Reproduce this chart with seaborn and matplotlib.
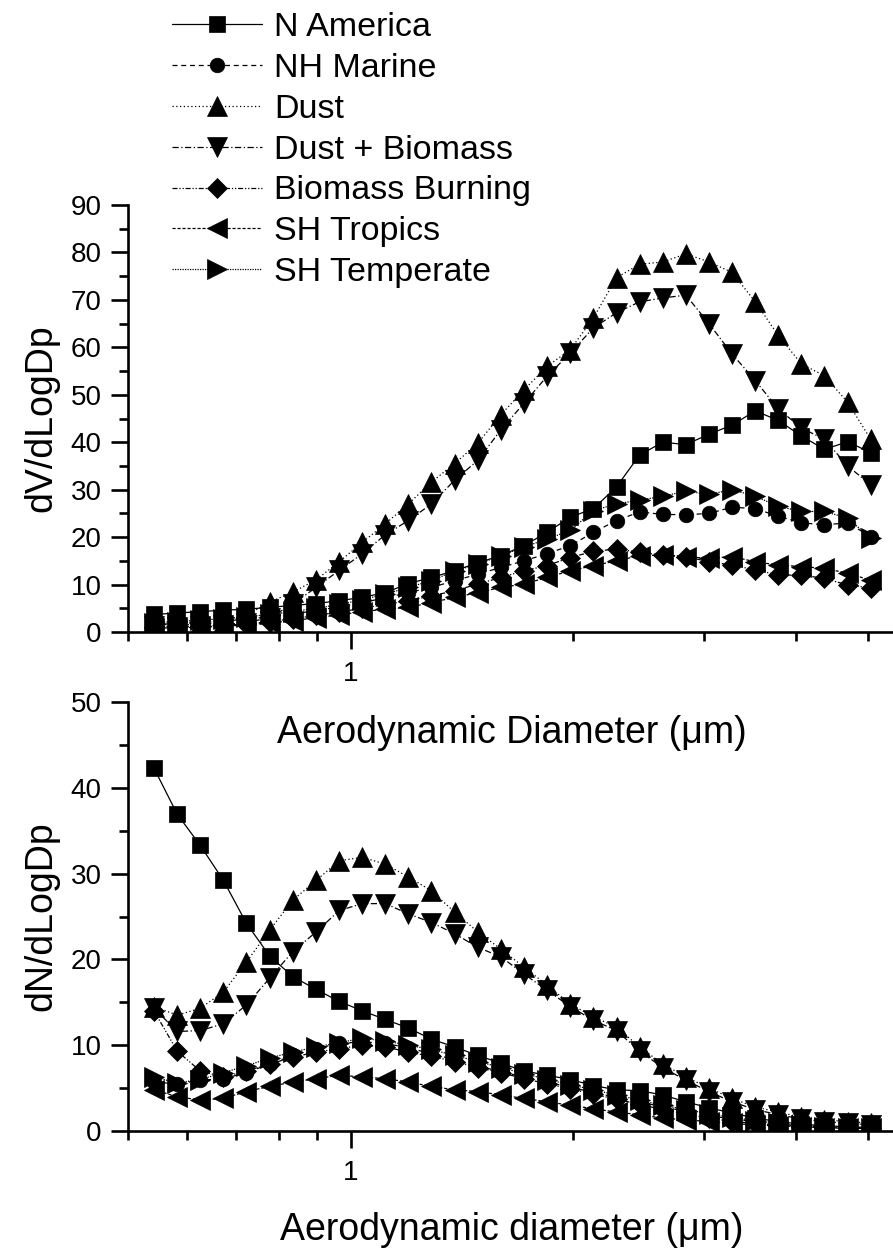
import pandas as pd
import matplotlib
matplotlib.use('Agg')
import matplotlib.pyplot as plt
from matplotlib.ticker import FixedLocator, FixedFormatter, NullFormatter, MultipleLocator
import seaborn as sns

# aerodynamic diameter channels (um)
diam = [0.542, 0.583, 0.626, 0.673, 0.723, 0.777, 0.835, 0.898, 0.965, 1.037,
        1.114, 1.197, 1.286, 1.382, 1.486, 1.596, 1.715, 1.843, 1.981, 2.129,
        2.288, 2.458, 2.642, 2.839, 3.051, 3.278, 3.523, 3.786, 4.068, 4.371,
        4.698, 5.048]

names = ['N America', 'NH Marine', 'Dust', 'Dust + Biomass',
         'Biomass Burning', 'SH Tropics', 'SH Temperate']

# volume distributions dV/dLogDp
dv_n_america = [3.7, 4.0, 4.3, 4.6, 4.8, 5.2, 5.6, 6.0, 6.6, 7.3, 8.3, 10.2, 11.5, 12.9, 14.6, 16.1,
                18.2, 21.0, 24.2, 26.0, 30.6, 37.3, 40.0, 39.5, 41.7, 43.6, 46.6, 44.6, 41.3, 38.5, 40.1, 37.8]
dv_nh_marine = [1.6, 1.8, 2.0, 2.3, 2.7, 3.2, 3.8, 4.5, 5.3, 6.2, 7.2, 8.3, 9.4, 10.8, 12.2, 13.6,
                15.0, 16.5, 18.2, 21.0, 23.5, 25.3, 24.8, 24.7, 25.0, 26.3, 26.0, 24.4, 23.0, 22.6, 23.0, 20.1]
dv_dust = [1.6, 1.5, 1.6, 2.0, 3.5, 6.3, 8.4, 11.0, 14.8, 18.9, 22.8, 27.0, 31.6, 35.5, 39.8, 45.8,
           51.0, 56.0, 59.5, 66.2, 74.7, 77.5, 78.0, 79.7, 78.0, 75.8, 69.6, 62.5, 56.5, 54.0, 48.4, 40.6]
dv_dust_biomass = [1.2, 1.1, 1.2, 1.5, 2.0, 3.0, 5.9, 9.4, 13.0, 16.5, 20.5, 23.5, 27.0, 32.0, 36.2, 42.6,
                   48.2, 53.9, 58.8, 64.1, 67.3, 69.6, 70.4, 71.0, 65.0, 58.6, 53.0, 47.0, 43.0, 40.6, 35.0, 31.0]
dv_biomass = [1.0, 1.1, 1.2, 1.4, 1.7, 2.2, 2.8, 3.5, 4.2, 5.0, 5.8, 6.6, 7.6, 8.7, 10.1, 11.5,
              12.9, 14.0, 15.7, 17.0, 17.5, 16.8, 16.2, 15.9, 14.8, 14.1, 13.1, 12.0, 12.0, 11.3, 9.9, 9.3]
dv_sh_tropics = [0.8, 0.9, 1.0, 1.2, 1.5, 1.9, 2.4, 3.0, 3.6, 4.3, 4.8, 5.2, 6.2, 7.3, 8.3, 9.4,
                 10.1, 11.5, 12.9, 14.0, 15.0, 16.1, 16.2, 15.9, 15.5, 15.9, 14.8, 14.1, 13.8, 13.4, 12.4, 10.9]
dv_sh_temperate = [2.0, 2.2, 2.5, 2.8, 3.2, 3.7, 4.3, 5.0, 5.8, 6.8, 8.0, 9.4, 10.8, 12.9, 14.3, 16.1,
                   17.9, 19.6, 21.4, 25.6, 27.0, 27.8, 28.6, 29.7, 29.0, 30.0, 28.6, 26.5, 25.4, 25.4, 24.0, 19.8]

# number distributions dN/dLogDp
dn_n_america = [42.3, 36.9, 33.3, 29.2, 24.2, 20.4, 18.0, 16.5, 15.1, 14.0, 13.0, 12.0, 10.7, 9.8, 8.8, 7.9,
                7.0, 6.5, 6.0, 5.3, 4.8, 4.7, 4.2, 3.4, 2.7, 2.1, 1.5, 1.1, 0.8, 0.6, 0.5, 0.4]
dn_nh_marine = [5.7, 5.5, 5.9, 6.1, 6.8, 7.8, 8.8, 9.6, 10.2, 10.4, 10.2, 9.7, 9.0, 8.3, 7.6, 6.9,
                6.3, 5.7, 5.1, 4.5, 3.9, 3.4, 2.8, 2.3, 1.8, 1.4, 1.1, 0.8, 0.6, 0.5, 0.4, 0.3]
dn_dust = [14.5, 13.5, 14.3, 16.2, 19.7, 23.4, 26.9, 29.2, 31.5, 31.9, 31.1, 29.6, 28.0, 25.5, 23.2, 21.2,
           19.1, 17.0, 14.8, 13.3, 12.1, 9.8, 7.8, 6.3, 5.0, 3.8, 2.8, 2.2, 1.6, 1.3, 1.1, 0.9]
dn_dust_biomass = [14.3, 11.6, 11.7, 12.5, 14.7, 17.8, 20.9, 23.2, 25.7, 26.5, 26.5, 25.3, 24.3, 23.0, 21.4, 20.3,
                   18.3, 16.4, 14.5, 12.9, 11.7, 9.3, 7.4, 5.9, 4.6, 3.4, 2.5, 1.9, 1.4, 1.1, 0.9, 0.7]
dn_biomass = [14.0, 9.3, 7.0, 6.3, 7.0, 7.8, 8.6, 9.2, 9.6, 10.0, 9.8, 9.2, 8.7, 8.1, 7.4, 6.8,
              6.1, 5.5, 4.9, 4.3, 3.7, 3.1, 2.5, 2.0, 1.5, 1.1, 0.9, 0.7, 0.5, 0.4, 0.3, 0.3]
dn_sh_tropics = [4.8, 4.0, 3.6, 3.8, 4.6, 5.2, 5.7, 6.1, 6.5, 6.3, 6.1, 5.7, 5.2, 4.8, 4.6, 4.2,
                 3.8, 3.4, 3.0, 2.6, 2.2, 1.9, 1.5, 1.3, 1.1, 0.9, 0.7, 0.6, 0.5, 0.4, 0.3, 0.3]
dn_sh_temperate = [6.3, 5.6, 6.0, 6.8, 7.6, 8.5, 9.2, 9.8, 10.3, 10.8, 10.5, 10.0, 9.5, 8.8, 8.1, 7.4,
                   6.7, 6.0, 5.4, 4.8, 4.2, 3.6, 3.0, 2.5, 2.0, 1.6, 1.2, 0.9, 0.7, 0.5, 0.4, 0.3]

dv_series = [dv_n_america, dv_nh_marine, dv_dust, dv_dust_biomass, dv_biomass, dv_sh_tropics, dv_sh_temperate]
dn_series = [dn_n_america, dn_nh_marine, dn_dust, dn_dust_biomass, dn_biomass, dn_sh_tropics, dn_sh_temperate]

# per-series marker / line style
markers = ['s', 'o', '^', 'v', 'D', '<', '>']
msizes = [11, 10.5, 14.5, 14.5, 10.5, 14.5, 14.5]
lstyles = ['-', (0, (4, 3)), (0, (1, 2)), (0, (5, 2, 1, 2)),
           (0, (4, 1.5, 1, 1.5, 1, 1.5)), (0, (2.5, 1.5)), (0, (1, 1))]

sns.set_style('ticks')
plt.rcParams['font.family'] = ['Liberation Sans', 'DejaVu Sans']
plt.rcParams['text.color'] = 'black'
plt.rcParams['axes.labelcolor'] = 'black'
plt.rcParams['xtick.color'] = 'black'
plt.rcParams['ytick.color'] = 'black'
plt.rcParams['axes.edgecolor'] = 'black'

W, H = 893, 1251
fig = plt.figure(figsize=(W / 100, H / 100), dpi=100)
ax_v = fig.add_axes([128 / W, 1 - 632 / H, 1 - 128 / W, (632 - 205) / H])
ax_n = fig.add_axes([128 / W, 1 - 1131 / H, 1 - 128 / W, (1131 - 702) / H])


def draw_panel(ax, series, ymax):
    for name, vals, m, ms, ls in zip(names, series, markers, msizes, lstyles):
        df = pd.DataFrame({'diam': diam, 'val': vals})
        sns.lineplot(data=df, x='diam', y='val', ax=ax, color='black', marker=m,
                     markersize=ms, markeredgecolor='black', markeredgewidth=0.5,
                     linestyle=ls, linewidth=0.9, errorbar=None, label=name, legend=False)
    ax.set_xscale('log')
    ax.set_xlim(0.5, 5.41)
    ax.set_ylim(0, ymax)
    ax.xaxis.set_major_locator(FixedLocator([1]))
    ax.xaxis.set_major_formatter(FixedFormatter(['1']))
    ax.xaxis.set_minor_locator(FixedLocator([0.5, 0.6, 0.7, 0.8, 0.9, 2, 3, 4, 5]))
    ax.xaxis.set_minor_formatter(NullFormatter())
    ax.yaxis.set_major_locator(MultipleLocator(10))
    ax.yaxis.set_minor_locator(MultipleLocator(5))
    sns.despine(ax=ax)
    for sp in ['left', 'bottom']:
        ax.spines[sp].set_linewidth(1.9)
        ax.spines[sp].set_color('black')
    ax.tick_params(which='major', length=12, width=1.9, labelsize=20,
                   color='black', labelcolor='black')
    ax.tick_params(which='minor', length=6.5, width=1.9, color='black')
    ax.tick_params(axis='x', which='major', pad=9)
    ax.tick_params(axis='y', which='major', pad=7)
    ax.set_xlabel('')
    ax.set_ylabel('')
    ax.patch.set_visible(False)


draw_panel(ax_v, dv_series, 90)
draw_panel(ax_n, dn_series, 50)

fig.text(41 / W, 1 - 418 / H, 'dV/dLogDp', rotation=90, ha='center', va='center', fontsize=27)
fig.text(41 / W, 1 - 916 / H, 'dN/dLogDp', rotation=90, ha='center', va='center', fontsize=27)
fig.text(512 / W, 1 - 733 / H, 'Aerodynamic Diameter (\u03bcm)', ha='center', va='center', fontsize=27)
fig.text(512 / W, 1 - 1230 / H, 'Aerodynamic diameter (\u03bcm)', ha='center', va='center', fontsize=27)

handles = ax_v.get_lines()[:len(names)]
fig.legend(handles, names, loc='upper left', bbox_to_anchor=(172 / W, 1 - 12 / H),
           frameon=False, fontsize=24.5, handlelength=2.65, handletextpad=0.36,
           labelspacing=0.29, borderpad=0, borderaxespad=0, numpoints=1)

fig.savefig('out.png', dpi=100)
